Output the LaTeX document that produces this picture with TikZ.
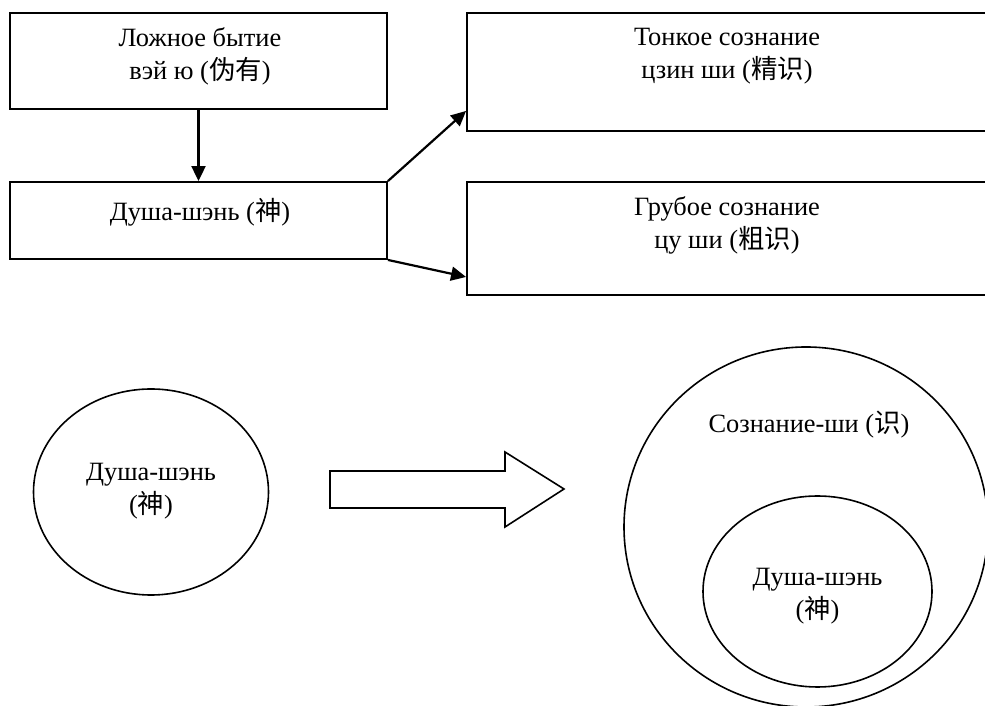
\documentclass[tikz,border=0pt]{standalone}
\usepackage{fontspec}
\setmainfont{Liberation Serif}
\newfontfamily\cjk{Noto Sans CJK SC}
\usetikzlibrary{arrows.meta,shapes.geometric,calc}
\tikzset{
kbox/.style={draw,rectangle,line width=1.9pt,inner sep=0pt},
koval/.style={draw,ellipse,line width=1.6pt,inner sep=0pt},
ktxt/.style={align=center,inner sep=0pt,font=\fontsize{26.4}{33}\selectfont},
karr/.style={-{Triangle[length=15pt,width=14pt]},line width=2.2pt},
}
\begin{document}
\begin{tikzpicture}[x=1pt,y=1pt]
\useasboundingbox(0,0)rectangle(985,706);
\pgfmathsetmacro{\kwl}{377}
\pgfmathsetmacro{\kwr}{521}
% boxes
\draw(198.5,645)node[kbox,minimum width=\kwl pt,minimum height=96pt](lozh){};
\draw(198.5,485.5)node[kbox,minimum width=\kwl pt,minimum height=77pt](dusha){};
\draw(727.5,634)node[kbox,minimum width=\kwr pt,minimum height=118pt](tonk){};
\draw(727.5,467.5)node[kbox,minimum width=\kwr pt,minimum height=113pt](grub){};
\draw(200,649.5)node[ktxt](lozhT){Ложное бытие\\вэй ю ({\cjk 伪有})};
\draw(200,494)node[ktxt](dushaT){Душа-шэнь ({\cjk 神})};
\draw(727,649.5)node[ktxt](tonkT){Тонкое сознание\\цзин ши ({\cjk 精识})};
\draw(727,481)node[ktxt](grubT){Грубое сознание\\цу ши ({\cjk 粗识})};
\draw[karr](lozh.south)--(dusha.north);
\draw[karr](dusha.north east)--($(tonk.south west)+(0,21)$);
\draw[karr](dusha.south east)--($(grub.south west)+(0,19)$);
% ellipses
\draw(151,214)node[koval,minimum width=235pt,minimum height=206pt](dusha2){};
\draw(151,215)node[ktxt](dusha2T){Душа-шэнь\\({\cjk 神})};
\draw[line width=1.6pt](330,235)--(505,235)--(505,254)--(564,217)--(505,179)--(505,198)--(330,198)--cycle;
\draw(806,179)node[koval,minimum width=364pt,minimum height=360pt](soz){};
\draw(809,281)node[ktxt](sozT){Сознание-ши ({\cjk 识})};
\draw(817.5,114.5)node[koval,minimum width=229pt,minimum height=191pt](dusha3){};
\draw(817.5,109.5)node[ktxt](dusha3T){Душа-шэнь\\({\cjk 神})};
\end{tikzpicture}
\end{document}
